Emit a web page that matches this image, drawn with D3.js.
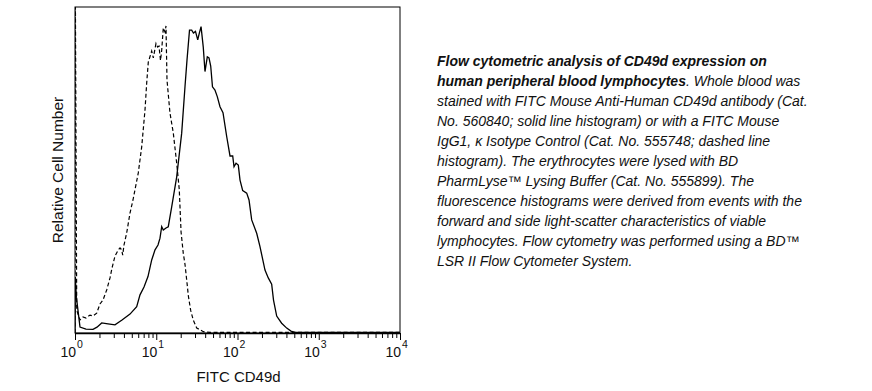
<!DOCTYPE html>
<html><head><meta charset="utf-8">
<script src="https://cdn.jsdelivr.net/npm/d3@7"></script>
<style>
html,body{margin:0;padding:0;background:#fff;}
svg{display:block;font-family:"Liberation Sans",Arial,sans-serif;}
</style></head>
<body><svg id="chart" width="872" height="391"></svg>
<script>
// FITC CD49d intensity (linear units, log-scaled axis) and relative cell counts (0-100)
const solidX = [1.0, 1.008, 1.04, 1.152, 1.365, 1.666, 1.866, 2.132, 2.547, 3.106, 3.789, 4.753, 5.745, 6.31, 7.07, 7.91, 8.79, 9.66, 10.51, 11.12, 11.67, 12.21, 13.18, 14.06, 15.49, 17.85, 20.56, 22.59, 23.9, 25.66, 27.3, 28.7, 30.4, 32.4, 33.9, 35.6, 37.9, 39.8, 42.5, 44.6, 46.8, 49.2, 52.8, 56.4, 60.9, 66.3, 73.7, 80.9, 87.3, 90.6, 95.9, 102.3, 107.4, 115.9, 129.8, 138.6, 149.5, 172.3, 189.1, 217.9, 239.3, 263.4, 277.5, 303.6, 349.6, 403.3, 455, 510, 1000, 3000, 10000];
const solidY = [0, 17.2, 11.0, 1.8, 1.2, 1.1, 1.8, 3.1, 2.8, 2.5, 4.0, 5.8, 8.1, 11.7, 14.1, 17.3, 22.4, 25.5, 27.0, 29.1, 32.6, 31.6, 32.2, 32.6, 38.7, 47.9, 61.3, 75.6, 83.7, 92.9, 92.9, 92.0, 92.5, 89.9, 92.0, 94.0, 87.7, 80.2, 84.7, 84.4, 81.9, 75.5, 74.5, 72.5, 69.4, 67.6, 60.2, 54.3, 54.3, 51.0, 52.1, 51.5, 46.9, 43.7, 42.9, 40.8, 34.7, 30.6, 26.5, 19.3, 16.9, 15.0, 10.1, 5.2, 3.0, 1.5, 0.6, 0.2, 0.2, 0.2, 0.2];

const dashedX = [1.0, 1.004, 1.012, 1.05, 1.152, 1.254, 1.365, 1.53, 1.666, 1.849, 2.031, 2.211, 2.455, 2.697, 2.853, 3.106, 3.41, 3.58, 3.755, 3.865, 4.01, 4.327, 4.753, 5.173, 5.47, 6.01, 6.62, 7.27, 7.63, 7.98, 8.38, 8.79, 9.2, 9.93, 10.42, 10.81, 11.28, 11.67, 12.21, 12.82, 13.18, 13.56, 14.75, 16.22, 17.85, 19.2, 20.2, 21.5, 22.6, 24.0, 24.8, 26.5, 28.5, 31.5, 34.5, 38, 46, 1000, 10000];
const dashedY = [0, 100, 100, 7.0, 4.0, 4.9, 4.6, 5.5, 5.2, 6.1, 8.9, 10.1, 13.2, 16.9, 19.9, 23.6, 25.5, 26.1, 25.5, 23.9, 27.0, 30.7, 36.8, 40.8, 43.9, 49.1, 57.1, 68.4, 76.7, 83.1, 84.8, 86.5, 84.4, 88.8, 87.7, 88.0, 83.6, 86.7, 93.6, 92.3, 94.2, 77.6, 67.5, 61.3, 52.1, 44.0, 31.0, 24.5, 21.0, 15.0, 11.5, 7.0, 4.0, 1.5, 1.0, 0.4, 0.2, 0.2, 0.2];

const majorTicks = [1, 10, 100, 1000, 10000];
const tickExponents = ["0", "1", "2", "3", "4"];
const xLabel = "FITC CD49d";
const yLabel = "Relative Cell Number";

const captionBold1 = "Flow cytometric analysis of CD49d expression on";
const captionBold2 = "human peripheral blood lymphocytes";
const captionRest2 = ". Whole blood was";
const captionLines = [
  "stained with FITC Mouse Anti-Human CD49d antibody (Cat.",
  "No. 560840; solid line histogram) or with a FITC Mouse",
  "IgG1, \u03BA Isotype Control (Cat. No. 555748; dashed line",
  "histogram). The erythrocytes were lysed with BD",
  "PharmLyse\u2122 Lysing Buffer (Cat. No. 555899). The",
  "fluorescence histograms were derived from events with the",
  "forward and side light-scatter characteristics of viable",
  "lymphocytes. Flow cytometry was performed using a BD\u2122",
  "LSR II Flow Cytometer System."
];

const svg = d3.select("#chart");
const L = 75, R = 400, T = 7, B = 333;
const x = d3.scaleLog().domain([1, 10000]).range([L, R]);
const y = d3.scaleLinear().domain([0, 100]).range([B, T]);

svg.append("defs").append("clipPath").attr("id", "clip")
  .append("rect").attr("x", L).attr("y", T).attr("width", R - L).attr("height", B - T);

const line = d3.line().x(d => x(d[0])).y(d => y(d[1]));
const solid = solidX.map((v, i) => [v, solidY[i]]);
const dashed = dashedX.map((v, i) => [v, dashedY[i]]);

const g = svg.append("g").attr("clip-path", "url(#clip)");
g.append("path").datum(dashed).attr("d", line)
  .attr("fill", "none").attr("stroke", "#000").attr("stroke-width", 1.2)
  .attr("stroke-dasharray", "4,2.5");
g.append("path").datum(solid).attr("d", line)
  .attr("fill", "none").attr("stroke", "#000").attr("stroke-width", 1.3);

// frame
svg.append("rect").attr("x", L).attr("y", T).attr("width", R - L).attr("height", B - T)
  .attr("fill", "none").attr("stroke", "#000").attr("stroke-width", 1);
svg.append("line").attr("x1", L).attr("x2", R).attr("y1", B + 0.5).attr("y2", B + 0.5)
  .attr("stroke", "#000").attr("stroke-width", 1.5);

// axis ticks
const axis = d3.axisBottom(x).tickValues(x.ticks()).tickSize(4).tickFormat("");
const ax = svg.append("g").attr("transform", `translate(0,${B})`).call(axis);
ax.select(".domain").remove();
ax.selectAll(".tick line").attr("stroke", "#000").attr("stroke-width", 1)
  .attr("y2", d => majorTicks.includes(d) ? 7 : 5);

// tick labels
majorTicks.forEach((t, i) => {
  const px = x(t);
  svg.append("text").attr("x", px + 1).attr("y", 357).attr("text-anchor", "end")
    .attr("font-size", 14).attr("fill", "#111").text("10");
  svg.append("text").attr("x", px + 2).attr("y", 348).attr("text-anchor", "start")
    .attr("font-size", 10.5).attr("fill", "#111").text(tickExponents[i]);
});

svg.append("text").attr("x", (L + R) / 2 + 1).attr("y", 382).attr("text-anchor", "middle")
  .attr("font-size", 15).attr("fill", "#111").text(xLabel);
svg.append("text").attr("transform", `translate(63,${(T + B) / 2}) rotate(-90)`)
  .attr("text-anchor", "middle").attr("font-size", 15.5).attr("fill", "#111").text(yLabel);

// caption
const cx = 437, cy0 = 66, lh = 20;
const cap = svg.append("g").attr("font-size", 14).attr("font-style", "italic").attr("fill", "#111");
cap.append("text").attr("x", cx).attr("y", cy0).attr("font-weight", "bold").text(captionBold1);
const t2 = cap.append("text").attr("x", cx).attr("y", cy0 + lh);
t2.append("tspan").attr("font-weight", "bold").text(captionBold2);
t2.append("tspan").text(captionRest2);
captionLines.forEach((s, i) => {
  cap.append("text").attr("x", cx).attr("y", cy0 + lh * (i + 2)).text(s);
});
</script>
</body></html>
